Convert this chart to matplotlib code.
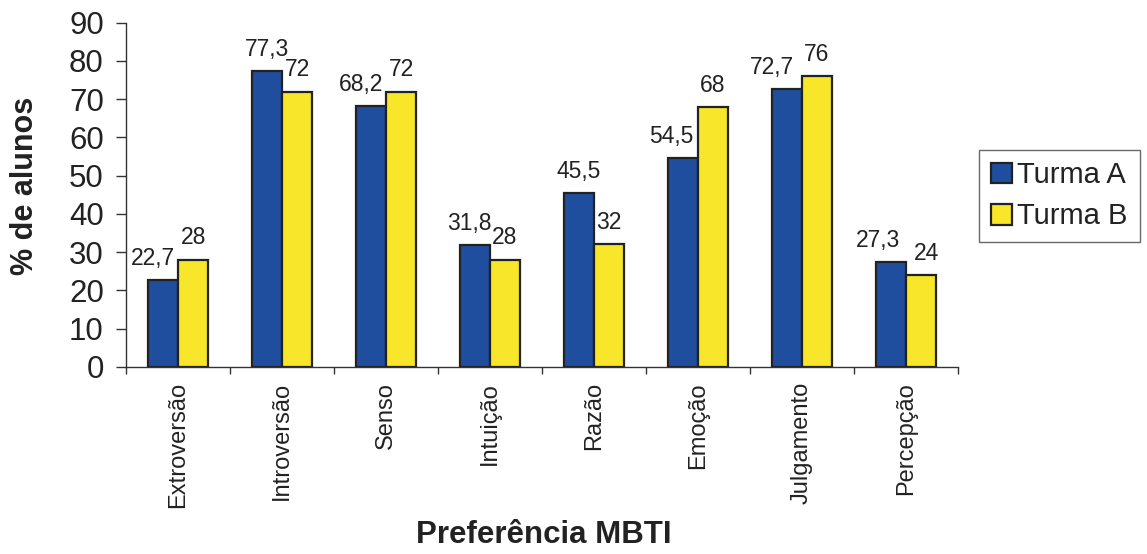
import matplotlib.pyplot as plt
import numpy as np

plt.rcParams['font.family'] = ['Liberation Sans', 'DejaVu Sans']

categorias = ["Extroversão", "Introversão", "Senso", "Intuição", "Razão",
              "Emoção", "Julgamento", "Percepção"]
turma_a = [22.7, 77.3, 68.2, 31.8, 45.5, 54.5, 72.7, 27.3]
turma_b = [28, 72, 72, 28, 32, 68, 76, 24]

# deslocamento horizontal dos rótulos (pontos), como no Excel
dx_a = [-7, 0, -7, -4, 0, -8, -11, -9]
dx_b = [0, 0, 0, 0, 0, 0, 0, 4]

AZUL = "#1F4E9F"
AMARELO = "#F7E62A"
EDGE = "#222222"
AXCOL = "#333333"
TXT = "#222222"


def fmt(v):
    s = f"{v:g}"
    return s.replace(".", ",")


fig = plt.figure(figsize=(11.47, 5.54), dpi=100)
ax = fig.add_axes([0.1099, 0.338, 0.7251, 0.621])

x = np.arange(len(categorias))
w = 0.29
ba = ax.bar(x - w / 2, turma_a, w, color=AZUL, edgecolor=EDGE, linewidth=1.6,
            label="Turma A")
bb = ax.bar(x + w / 2, turma_b, w, color=AMARELO, edgecolor=EDGE, linewidth=1.6,
            label="Turma B")

for i, (r, v) in enumerate(zip(ba, turma_a)):
    ax.annotate(fmt(v), (r.get_x() + r.get_width() / 2, v),
                xytext=(dx_a[i], 11), textcoords="offset points",
                ha="center", va="baseline", fontsize=16.5, color=TXT)
for i, (r, v) in enumerate(zip(bb, turma_b)):
    ax.annotate(fmt(v), (r.get_x() + r.get_width() / 2, v),
                xytext=(dx_b[i], 11), textcoords="offset points",
                ha="center", va="baseline", fontsize=16.5, color=TXT)

ax.set_xlim(-0.5, len(categorias) - 0.5)
ax.set_ylim(0, 90)
ax.set_yticks(range(0, 91, 10))
ax.tick_params(axis="y", labelsize=22.5, length=7, width=1, color=AXCOL,
               labelcolor=TXT, pad=9)

ax.set_xticks(x)
ax.set_xticklabels(categorias, rotation=90, fontsize=17, color=TXT)
ax.tick_params(axis="x", length=0, pad=11)
ax.set_xticks(np.arange(-0.5, len(categorias), 1), minor=True)
ax.tick_params(axis="x", which="minor", length=5, width=1, color=AXCOL)

for s in ["top", "right"]:
    ax.spines[s].set_visible(False)
for s in ["left", "bottom"]:
    ax.spines[s].set_color(AXCOL)
    ax.spines[s].set_linewidth(1)

fig.text(0.022, 0.665, "% de alunos", rotation=90, ha="center", va="center",
         fontsize=22, fontweight="bold", color=TXT)
fig.text(0.474, 0.035, "Preferência MBTI", ha="center", va="center",
         fontsize=22.5, fontweight="bold", color=TXT)

leg = fig.legend(handles=[ba, bb], labels=["Turma A", "Turma B"],
                 loc="upper left", bbox_to_anchor=(0.8535, 0.73),
                 fontsize=21, frameon=True, fancybox=False,
                 handlelength=0.72, handleheight=0.72, handletextpad=0.2,
                 borderpad=0.4, labelspacing=0.45, borderaxespad=0)
leg.get_frame().set_edgecolor("#444444")
leg.get_frame().set_linewidth(1)
for t in leg.get_texts():
    t.set_color(TXT)

fig.savefig("out.png", dpi=100)
